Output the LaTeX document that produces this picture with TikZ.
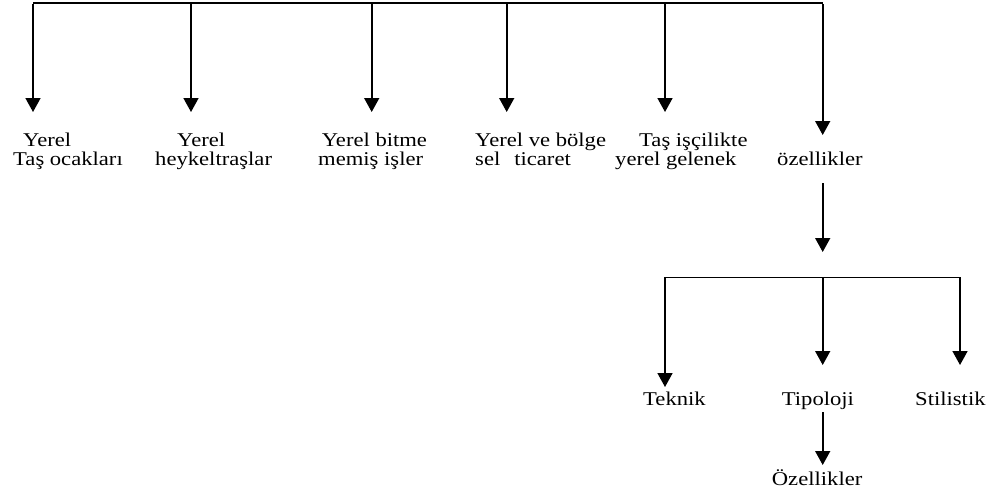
\documentclass[tikz,border=0pt]{standalone}
\usepackage{fontspec}
\setmainfont{Liberation Serif}[FakeStretch=1.16]
\usetikzlibrary{arrows.meta}
\begin{document}
\begin{tikzpicture}[x=1pt,y=-1pt,
  lbl/.style={anchor=base west,inner sep=0pt,font=\fontsize{19.5}{21}\selectfont},
  conn/.style={line width=1.6pt},
  arr/.style={conn,-{Triangle[length=14pt,width=15pt]}}]
\useasboundingbox (0,0) rectangle (990,491);
% top bar
\coordinate (L) at (33,3);
\coordinate (R) at (822.7,3);
\draw[conn] (L) -- (R);
% top branches
\coordinate (s1) at (33,4);    \coordinate (e1) at (33,112);
\coordinate (s2) at (191,4);   \coordinate (e2) at (191,112);
\coordinate (s3) at (371.7,4); \coordinate (e3) at (371.7,112);
\coordinate (s4) at (506.7,4); \coordinate (e4) at (506.7,112);
\coordinate (s5) at (665,4);   \coordinate (e5) at (665,112);
\coordinate (s6) at (822.7,4); \coordinate (e6) at (822.7,135);
\foreach \i in {1,...,6}{\draw[arr] (s\i) -- (e\i);}
% labels
\node[lbl] (a1) at (23,146.7) {Yerel};
\node[lbl] (b1) at (13,165) {Taş ocakları};
\node[lbl] (a2) at (177,146.7) {Yerel};
\node[lbl] (b2) at (155,165) {heykeltraşlar};
\node[lbl] (a3) at (321.7,146.7) {Yerel bitme};
\node[lbl] (b3) at (318,165) {memiş işler};
\node[lbl] (a4) at (475,146.7) {Yerel ve bölge};
\node[lbl] (b4) at (475,165) {sel\hspace{14pt}ticaret};
\node[lbl] (a5) at (639,146.7) {Taş işçilikte};
\node[lbl] (b5) at (615,165) {yerel gelenek};
\node[lbl] (oz) at (777,165) {özellikler};
% lower
\coordinate (os) at (822.7,183);
\coordinate (oe) at (822.7,252);
\draw[arr] (os) -- (oe);
\coordinate (BL) at (665,277.3);
\coordinate (BR) at (960,277.3);
\coordinate (BM) at (822.7,277.3);
\draw[conn] (BL) -- (BR);
\coordinate (tk) at (665,387);
\coordinate (tp) at (822.7,365);
\coordinate (st) at (960,365);
\draw[arr] (BL) -- (tk);
\draw[arr] (BM) -- (tp);
\draw[arr] (BR) -- (st);
\node[lbl] (teknik) at (643,405) {Teknik};
\node[lbl] (tipoloji) at (781.7,405) {Tipoloji};
\node[lbl] (stilistik) at (915,405) {Stilistik};
\coordinate (ts) at (822.7,412);
\coordinate (te) at (822.7,465);
\draw[arr] (ts) -- (te);
\node[lbl] (Oz) at (771.7,485) {Özellikler};
\end{tikzpicture}
\end{document}
